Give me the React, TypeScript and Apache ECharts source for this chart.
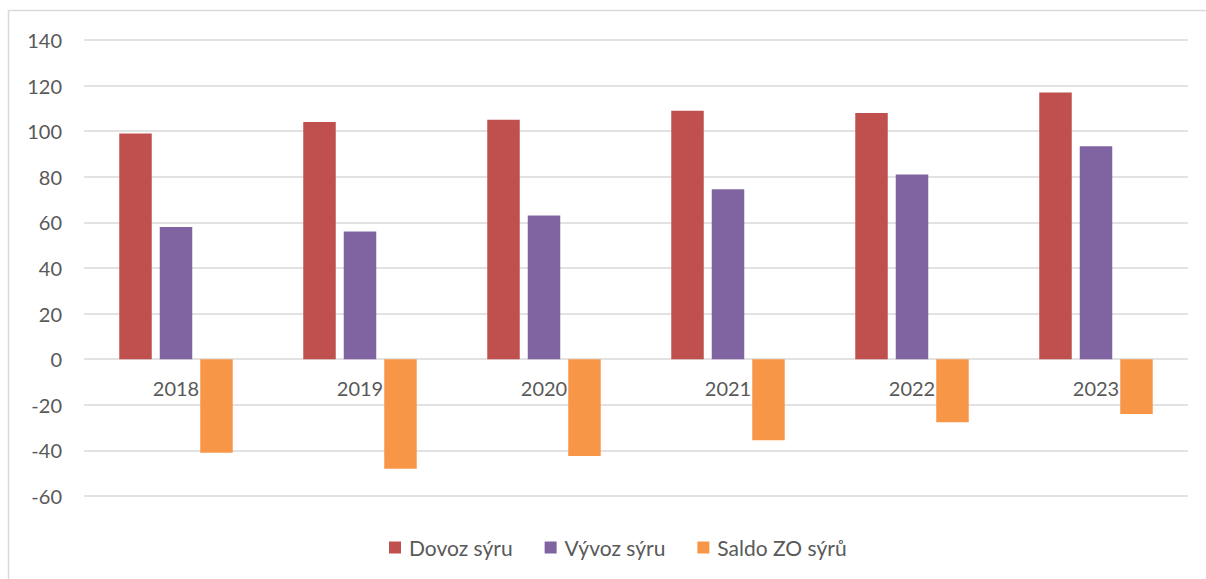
import React, { useEffect, useRef } from "react";
import * as echarts from "echarts";

const categories = ["2018", "2019", "2020", "2021", "2022", "2023"];
const dovoz = [99, 104, 105, 109, 108, 117];
const vyvoz = [58, 56, 63, 74.5, 81, 93.4];
const saldo = [-41, -48, -42.5, -35.5, -27.6, -24];
const yTicks = { min: -60, max: 140, interval: 20 };

const FONT = "Lato, 'Open Sans', sans-serif";
const TXT = "#595959";
const W = 1206;
const H = 579;
const GRID = { left: 84, right: 18, top: 40, bottom: 83 };

export default function App() {
  const ref = useRef<HTMLDivElement>(null);
  useEffect(() => {
    document.body.style.margin = "0";
    if (!ref.current) return;
    const chart = echarts.init(ref.current, undefined, { renderer: "svg" });
    const gridH = H - GRID.top - GRID.bottom;
    const zeroOffset = -gridH * (0 - yTicks.min) / (yTicks.max - yTicks.min);
    chart.setOption({
      animation: false,
      textStyle: { fontFamily: FONT },
      graphic: [
        {
          type: "rect",
          shape: { x: 8.5, y: 10.5, width: 1300, height: 700 },
          style: { fill: "none", stroke: "#d9d9d9", lineWidth: 1.5 },
          silent: true,
        },
      ],
      grid: { ...GRID, containLabel: false },
      legend: {
        top: 532,
        left: 384,
        itemWidth: 12,
        itemHeight: 12,
        itemGap: 32,
        icon: "rect",
        textStyle: { color: TXT, fontSize: 21, fontFamily: FONT, padding: [0, 0, 0, 3] },
        data: ["Dovoz sýru", "Vývoz sýru", "Saldo ZO sýrů"],
      },
      xAxis: {
        type: "category",
        data: categories,
        offset: zeroOffset,
        axisLine: { show: false, onZero: false },
        axisTick: { show: false },
        axisLabel: { color: TXT, fontSize: 20, margin: 19, fontFamily: FONT },
      },
      yAxis: {
        type: "value",
        min: yTicks.min,
        max: yTicks.max,
        interval: yTicks.interval,
        axisLine: { show: false },
        axisTick: { show: false },
        axisLabel: { color: TXT, fontSize: 20, margin: 22, fontFamily: FONT },
        splitLine: { lineStyle: { color: "#d9d9d9", width: 1.5 } },
      },
      series: [
        { name: "Dovoz sýru", type: "bar", data: dovoz, barWidth: 32.5, barGap: "24.6%", itemStyle: { color: "#C0504D" } },
        { name: "Vývoz sýru", type: "bar", data: vyvoz, barWidth: 32.5, barGap: "24.6%", itemStyle: { color: "#8064A2" } },
        { name: "Saldo ZO sýrů", type: "bar", data: saldo, barWidth: 32.5, barGap: "24.6%", itemStyle: { color: "#F79646" } },
      ],
    });
    return () => chart.dispose();
  }, []);
  return <div ref={ref} style={{ width: W, height: H }} />;
}
